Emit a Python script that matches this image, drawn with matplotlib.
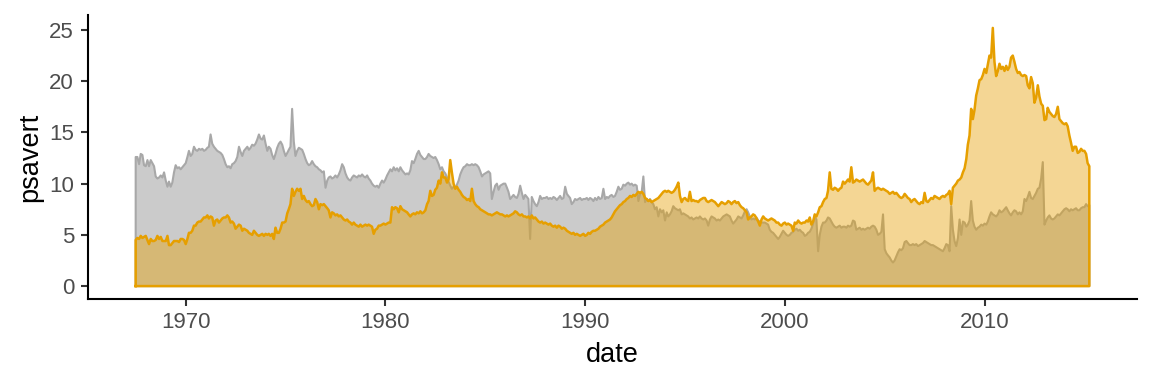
import numpy as np
import pandas as pd
import matplotlib
matplotlib.use("Agg")
import matplotlib.pyplot as plt
import matplotlib.dates as mdates

start_month = "1967-07-01"

# Personal savings rate (monthly, Jul 1967 - Apr 2015)
psavert = [
    12.6, 12.6, 11.9, 12.9, 12.8, 11.8,
    11.7, 12.3, 11.7, 12.3, 12.0, 11.7, 10.7, 10.5, 10.6, 10.8, 10.6, 11.1,
    10.3, 9.7, 10.2, 9.7, 10.1, 11.1, 11.8, 11.5, 11.6, 11.4, 11.6, 11.8,
    12.0, 12.6, 13.2, 12.7, 12.9, 13.6, 13.3, 13.2, 13.4, 13.3, 13.4, 13.2,
    13.3, 13.5, 13.6, 14.8, 13.9, 13.6, 13.4, 13.2, 13.1, 13.0, 12.8, 12.4,
    11.9, 11.6, 11.7, 11.5, 11.9, 12.0, 12.2, 12.6, 13.6, 13.1, 12.7, 13.2,
    13.4, 13.6, 13.3, 13.5, 13.8, 13.7, 13.9, 14.3, 14.8, 14.4, 14.3, 14.7,
    13.9, 13.2, 13.6, 13.4, 12.8, 12.4, 12.9, 13.5, 13.9, 14.1, 13.8, 13.2,
    12.7, 13.0, 13.3, 13.6, 17.3, 14.1, 12.7, 13.2, 13.5, 13.4, 13.3, 12.9,
    12.4, 12.0, 11.8, 11.9, 12.2, 11.9, 11.7, 11.6, 11.4, 11.3, 11.1, 11.2,
    9.6, 10.3, 10.6, 10.7, 10.5, 10.6, 10.8, 10.6, 10.9, 11.3, 11.9, 11.6,
    11.0, 10.6, 10.4, 10.3, 10.6, 10.8, 10.7, 10.6, 10.8, 10.7, 10.9, 10.7,
    10.6, 10.8, 10.5, 10.3, 10.0, 9.8, 9.7, 9.8, 9.6, 10.0, 10.3, 10.1,
    10.4, 10.8, 11.1, 11.4, 11.2, 11.6, 11.3, 11.5, 11.2, 11.6, 11.3, 11.1,
    10.9, 11.0, 10.9, 11.3, 12.2, 12.0, 12.4, 12.9, 13.2, 12.8, 12.6, 12.4,
    12.4, 12.6, 12.9, 12.7, 12.6, 12.5, 12.6, 12.3, 11.9, 11.4, 11.6, 11.2,
    11.0, 10.6, 10.2, 9.8, 9.5, 9.7, 9.6, 9.9, 10.3, 10.9, 11.3, 11.6,
    11.7, 11.9, 11.8, 11.8, 11.9, 11.8, 11.9, 11.8, 11.6, 11.2, 10.7, 10.9,
    11.0, 11.1, 11.2, 11.0, 8.5, 9.2, 9.8, 10.0, 9.4, 9.8, 9.9, 10.0,
    10.0, 9.6, 9.2, 8.5, 8.7, 8.9, 8.7, 8.6, 9.0, 9.8, 9.1, 8.5,
    8.9, 8.7, 8.5, 4.6, 8.7, 8.3, 8.0, 7.8, 8.2, 8.8, 8.5, 8.6,
    8.6, 8.7, 8.5, 8.6, 8.5, 8.7, 8.6, 8.4, 8.6, 8.8, 8.5, 8.6,
    9.7, 9.0, 8.8, 8.6, 8.0, 8.2, 8.5, 8.4, 8.5, 8.6, 8.4, 8.5,
    8.5, 8.6, 8.4, 8.6, 8.5, 8.3, 8.6, 8.4, 8.7, 8.5, 8.6, 9.5,
    8.5, 8.7, 8.6, 8.8, 8.9, 8.7, 8.8, 9.2, 9.7, 9.4, 9.5, 9.9,
    9.8, 10.0, 10.1, 9.9, 10.0, 9.8, 9.9, 9.8, 8.3, 9.0, 9.2, 10.7,
    8.2, 8.5, 8.3, 8.5, 8.2, 8.0, 7.5, 7.7, 6.8, 7.5, 7.2, 7.4,
    6.4, 7.2, 6.8, 7.0, 7.3, 7.8, 7.6, 7.5, 7.4, 7.5, 7.0, 7.1,
    7.0, 6.9, 6.8, 6.6, 6.7, 6.5, 6.6, 6.7, 6.6, 6.8, 6.6, 6.5,
    6.6, 6.4, 5.9, 6.5, 6.8, 6.7, 6.6, 6.4, 6.5, 6.4, 6.6, 6.8,
    6.9, 7.0, 6.9, 6.8, 6.4, 6.1, 6.3, 6.5, 6.8, 6.7, 6.6, 6.9,
    7.3, 7.5, 7.2, 6.8, 6.5, 6.6, 6.5, 6.7, 6.4, 6.3, 6.2, 6.2,
    6.2, 6.1, 6.0, 5.5, 5.3, 5.2, 5.0, 4.8, 4.6, 4.8, 5.1, 5.4,
    5.2, 5.0, 4.9, 5.0, 5.2, 5.3, 5.5, 5.6, 5.4, 5.5, 5.3, 5.2,
    4.9, 5.0, 5.2, 5.3, 5.6, 6.1, 6.8, 6.5, 3.4, 5.0, 5.8, 6.2,
    6.2, 6.4, 6.7, 6.6, 6.3, 6.0, 5.8, 5.7, 5.8, 5.9, 5.7, 5.8,
    5.8, 5.7, 5.9, 5.8, 5.9, 6.4, 6.3, 5.5, 5.6, 5.7, 5.5, 5.6,
    5.5, 5.6, 5.7, 5.6, 5.8, 5.9, 5.8, 5.5, 5.0, 5.1, 5.3, 7.0,
    3.6, 3.2, 3.0, 2.8, 2.5, 2.3, 2.5, 2.9, 3.3, 3.6, 3.5, 3.7,
    4.3, 4.4, 4.2, 4.0, 4.0, 4.1, 4.0, 4.1, 3.9, 4.0, 4.1, 4.2,
    4.4, 4.3, 4.2, 4.1, 4.0, 4.0, 3.9, 3.8, 3.7, 3.6, 3.5, 3.4,
    3.7, 4.1, 4.0, 3.4, 7.8, 5.5, 4.4, 3.9, 4.7, 6.5, 5.0, 6.3,
    6.2, 5.8, 6.0, 6.4, 8.3, 6.4, 5.8, 5.5, 5.7, 5.8, 6.0, 5.9,
    6.1, 6.0, 6.3, 6.8, 7.2, 7.0, 6.9, 6.8, 7.0, 7.4, 7.2, 7.3,
    7.5, 7.7, 7.4, 7.1, 6.9, 7.2, 7.4, 7.3, 7.0, 7.2, 7.0, 7.3,
    8.5, 8.3, 8.7, 9.2, 8.6, 8.5, 8.8, 9.1, 9.5, 9.6, 10.5, 12.1,
    6.0, 6.4, 6.7, 6.9, 6.6, 6.5, 6.6, 6.8, 7.0, 6.9, 7.1, 7.3,
    7.5, 7.6, 7.5, 7.3, 7.5, 7.4, 7.5, 7.6, 7.4, 7.4, 7.6, 7.7,
    7.7, 8.0, 7.8, 7.9,
]

# Median duration of unemployment, weeks (monthly, Jul 1967 - Apr 2015)
uempmed = [
    4.5, 4.7, 4.6, 4.9, 4.7, 4.8,
    4.9, 4.5, 4.1, 4.6, 4.4, 4.4, 4.5, 4.9, 4.6, 4.8, 4.4, 4.4,
    4.4, 4.9, 4.0, 4.0, 4.2, 4.4, 4.4, 4.4, 4.3, 4.6, 4.6, 4.5,
    4.1, 4.6, 5.2, 5.2, 5.4, 5.9, 5.9, 6.2, 6.3, 6.3, 6.5, 6.7,
    6.7, 6.9, 6.6, 6.8, 6.7, 5.9, 6.4, 6.5, 6.2, 6.4, 6.6, 6.7,
    6.7, 6.9, 6.7, 6.2, 6.3, 6.1, 5.6, 5.8, 6.0, 5.9, 5.4, 5.6,
    5.5, 5.4, 5.2, 5.1, 5.0, 5.4, 5.2, 5.0, 4.9, 5.0, 5.1, 4.9,
    5.1, 5.0, 5.1, 4.9, 5.1, 4.6, 5.7, 5.2, 5.2, 5.6, 6.2, 6.2,
    6.3, 7.1, 7.5, 8.0, 9.5, 8.8, 9.2, 9.5, 9.3, 9.5, 8.5, 8.8,
    8.4, 8.2, 8.3, 8.0, 7.8, 7.9, 8.5, 8.2, 7.5, 8.0, 7.9, 8.0,
    7.8, 7.6, 7.4, 6.7, 7.2, 7.1, 6.9, 7.0, 6.8, 6.9, 6.7, 6.5,
    6.4, 6.5, 6.3, 6.2, 6.0, 6.2, 6.0, 5.9, 5.8, 6.0, 5.8, 5.9,
    6.0, 5.9, 6.0, 5.9, 5.8, 5.1, 5.5, 5.6, 5.9, 5.9, 6.0, 6.1,
    6.0, 6.1, 6.2, 6.2, 7.7, 7.5, 7.7, 7.6, 7.2, 7.8, 7.5, 7.4,
    7.3, 7.2, 7.0, 6.8, 7.0, 7.1, 7.0, 7.2, 7.1, 7.3, 7.1, 7.2,
    7.4, 8.0, 8.3, 9.3, 8.8, 8.9, 9.4, 9.6, 10.3, 10.0, 11.1, 10.6,
    10.6, 10.1, 10.4, 12.3, 11.1, 10.0, 9.5, 9.7, 9.4, 9.2, 8.9, 8.7,
    8.6, 8.4, 8.5, 8.3, 9.5, 8.3, 8.0, 7.8, 7.7, 7.5, 7.4, 7.3,
    7.2, 7.1, 7.0, 7.0, 6.9, 7.0, 7.1, 7.2, 7.1, 7.0, 7.0, 6.9,
    6.8, 6.9, 6.8, 6.9, 7.0, 7.1, 7.3, 7.2, 7.0, 6.9, 7.0, 6.8,
    6.8, 6.7, 6.8, 6.6, 6.9, 6.6, 6.7, 6.5, 6.3, 6.2, 6.3, 6.1,
    6.2, 6.1, 6.0, 6.1, 5.9, 5.8, 5.9, 5.7, 5.9, 5.8, 5.6, 5.7,
    5.6, 5.4, 5.3, 5.2, 5.1, 5.2, 5.0, 5.1, 5.0, 4.9, 5.0, 5.1,
    4.9, 5.0, 5.2, 5.1, 5.3, 5.4, 5.4, 5.5, 5.6, 5.8, 5.9, 6.0,
    6.2, 6.3, 6.4, 6.5, 6.7, 7.0, 7.3, 7.5, 7.7, 7.9, 8.0, 8.2,
    8.3, 8.5, 8.6, 8.8, 8.7, 8.9, 8.8, 9.0, 9.2, 9.1, 9.2, 9.0,
    8.6, 8.5, 8.3, 8.4, 8.2, 8.3, 8.4, 8.5, 8.6, 8.8, 9.0, 9.2,
    9.3, 9.2, 9.3, 9.2, 9.1, 9.2, 9.4, 9.7, 10.1, 8.8, 8.2, 8.5,
    8.6, 8.4, 8.3, 9.2, 8.3, 8.4, 8.3, 8.3, 8.2, 8.4, 8.5, 8.6,
    8.6, 8.3, 8.2, 8.3, 8.4, 8.3, 8.2, 8.0, 7.8, 8.0, 8.2, 8.1,
    8.0, 8.1, 8.3, 8.2, 8.0, 8.2, 8.3, 8.1, 8.2, 7.9, 7.7, 7.6,
    7.4, 7.2, 6.5, 6.7, 6.8, 7.0, 6.9, 6.6, 6.3, 5.9, 6.5, 6.8,
    6.6, 6.5, 6.4, 6.5, 6.6, 6.5, 6.4, 6.2, 6.2, 6.0, 5.9, 6.1,
    6.2, 6.0, 6.1, 6.0, 5.9, 5.4, 6.2, 6.1, 6.4, 6.2, 6.1, 6.2,
    6.2, 6.4, 6.3, 6.7, 6.0, 6.3, 7.0, 6.8, 7.2, 7.7, 7.8, 8.2,
    8.5, 8.6, 9.3, 11.1, 9.5, 9.4, 9.6, 9.5, 9.3, 9.5, 9.6, 10.2,
    10.0, 10.2, 10.4, 10.2, 11.6, 10.1, 10.2, 10.4, 10.3, 10.2, 10.3, 10.4,
    10.2, 10.0, 9.9, 10.1, 10.3, 11.1, 9.3, 9.5, 9.6, 9.5, 9.4, 9.5,
    9.4, 9.3, 9.2, 9.0, 9.1, 9.2, 9.0, 9.1, 8.9, 8.7, 8.6, 8.7,
    9.0, 8.8, 8.6, 8.5, 8.2, 8.4, 8.5, 8.3, 8.1, 8.0, 8.2, 8.1,
    9.1, 8.3, 8.2, 8.4, 8.6, 8.5, 8.8, 8.7, 8.6, 8.5, 8.7, 8.8,
    8.7, 8.9, 9.0, 9.3, 8.0, 9.6, 9.8, 10.0, 10.3, 10.4, 10.6, 11.1,
    11.5, 12.4, 13.8, 14.7, 17.3, 16.3, 17.2, 18.6, 19.3, 20.1, 20.2, 20.6,
    21.2, 20.8, 21.6, 22.5, 22.3, 25.2, 21.9, 20.5, 21.0, 21.7, 21.2, 21.4,
    21.0, 21.5, 21.1, 21.4, 22.3, 22.5, 21.9, 21.2, 20.8, 20.9, 20.6, 20.5,
    20.6, 20.5, 19.6, 19.3, 20.4, 19.8, 17.9, 18.4, 19.6, 18.5, 17.8, 17.6,
    16.2, 16.3, 17.4, 17.0, 16.8, 16.6, 16.5, 16.8, 17.5, 16.3, 16.1, 15.9,
    15.8, 15.9, 15.6, 14.7, 14.0, 13.2, 13.6, 13.6, 13.0, 13.1, 13.4, 13.2,
    13.2, 12.9, 12.0, 11.7,
]

dates = pd.date_range(start_month, periods=len(psavert), freq="MS")
x = mdates.date2num(dates)

plt.rcParams["font.family"] = ["Liberation Sans", "DejaVu Sans"]

fig = plt.figure(figsize=(11.52, 3.84), dpi=100)
ax = fig.add_axes([88 / 1152, 1 - 299 / 384, (1137 - 88) / 1152, (299 - 15) / 384])


def area(ax, xv, yv, fill, line, alpha, lw):
    yv = np.asarray(yv, dtype=float)
    ax.fill_between(xv, 0, yv, facecolor=fill, alpha=alpha, linewidth=0, zorder=2)
    px = np.concatenate([[xv[0]], xv, [xv[-1], xv[0]]])
    py = np.concatenate([[0], yv, [0, 0]])
    ax.plot(px, py, color=line, linewidth=lw, zorder=2, solid_joinstyle="round")


area(ax, x, psavert, "#999999", "#A8A8A8", 0.5, 1.5)
area(ax, x, uempmed, "#E69F00", "#E69F00", 0.42, 1.8)

x0 = mdates.date2num(pd.Timestamp("1967-07-01"))
x1 = mdates.date2num(pd.Timestamp("2015-04-01"))
pad = (x1 - x0) * 0.05
ax.set_xlim(x0 - pad, x1 + pad)
ax.set_ylim(-1.26, 26.46)

ax.xaxis.set_major_locator(mdates.YearLocator(10))
ax.xaxis.set_major_formatter(mdates.DateFormatter("%Y"))
ax.set_yticks([0, 5, 10, 15, 20, 25])

for s in ["top", "right"]:
    ax.spines[s].set_visible(False)
for s in ["left", "bottom"]:
    ax.spines[s].set_linewidth(1.5)
    ax.spines[s].set_color("black")

ax.tick_params(axis="both", length=5, width=1.5, color="#333333",
               labelsize=16, labelcolor="#4D4D4D")
ax.tick_params(axis="x", pad=4)
ax.tick_params(axis="y", pad=5)

ax.set_xlabel("date", fontsize=19.5, color="black")
ax.set_ylabel("psavert", fontsize=19.5, color="black")
ax.xaxis.set_label_coords(0.5, (299 - 355) / 284)
ax.xaxis.label.set_va("center")
ax.yaxis.set_label_coords((30 - 88) / 1049, 0.5)
ax.yaxis.label.set_va("center")

fig.savefig("out.png", dpi=100)
